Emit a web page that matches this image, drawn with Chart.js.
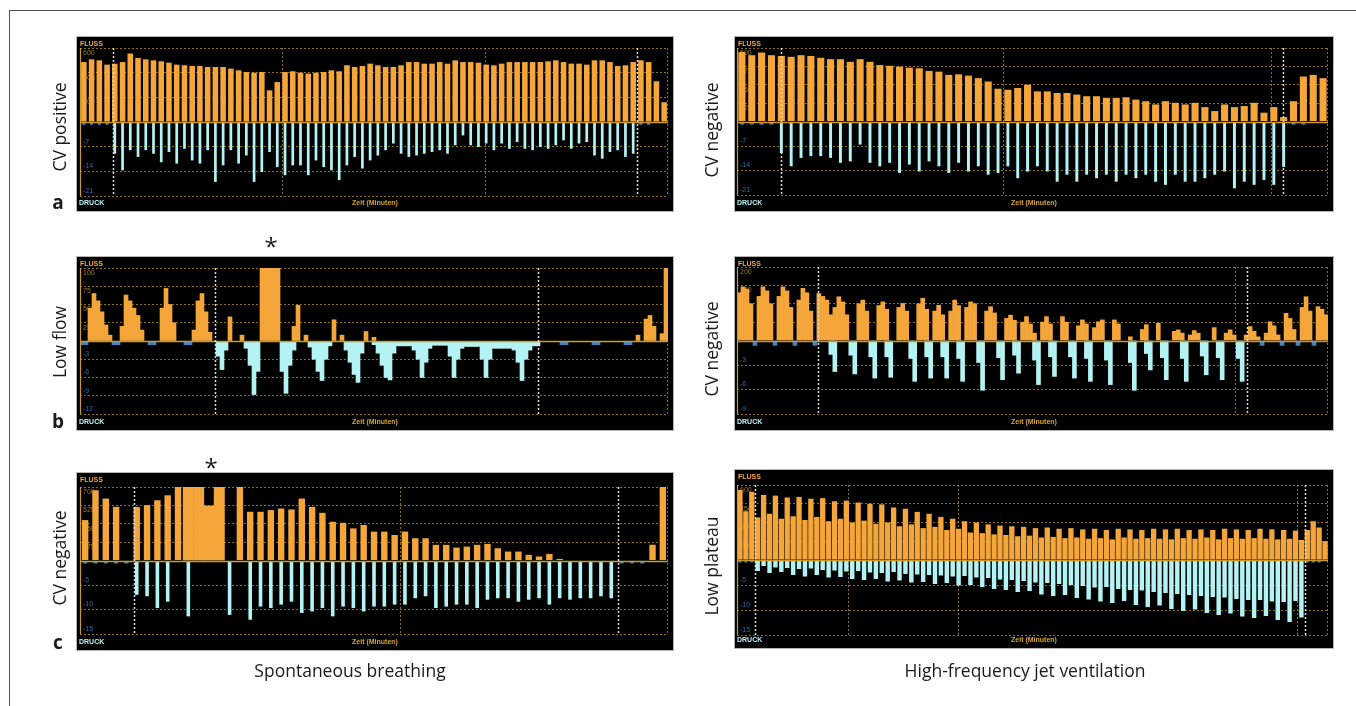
<!DOCTYPE html>
<html>
<head>
<meta charset="utf-8">
<script src="https://cdn.jsdelivr.net/npm/chart.js@4.4.1/dist/chart.umd.min.js"></script>
<style>
  body { margin: 0; width: 1356px; height: 706px; background: #fff; position: relative; overflow: hidden; font-family: 'Open Sans', sans-serif; }
  .frameTop { position: absolute; left: 9px; top: 10px; width: 1347px; height: 0; border-top: 1.5px solid #555; }
  .frameLeft { position: absolute; left: 9px; top: 10px; width: 0; height: 700px; border-left: 1.5px solid #555; }
  .panel { position: absolute; background: #000; box-shadow: 0 0 0 1px #b5b5b5; }
  .panel canvas { position: absolute; left: 0; top: 0; }
  .panel span { position: absolute; font: bold 7px 'Liberation Sans', sans-serif; line-height: 8px; white-space: nowrap; }
  .fluss { left: 3px; top: 3px; color: #f5a63a; }
  .druck { left: 2px; bottom: 4px; color: #b6f0f4; }
  .zeit { left: 50%; transform: translateX(-50%); bottom: 4px; color: #d8a52e; }
  .rowlab { position: absolute; font-size: 17.5px; color: #1a1a1a; line-height: 1; white-space: nowrap; transform: translate(-50%, -50%) rotate(-90deg); }
  .letter { position: absolute; font-size: 19px; font-weight: bold; color: #1a1a1a; line-height: 1; transform: translate(-50%, -50%); }
  .star { position: absolute; font-size: 24px; color: #1a1a1a; line-height: 1; transform: translate(-50%, -50%); }
  .bottom { position: absolute; font-size: 17.5px; color: #1a1a1a; line-height: 1; white-space: nowrap; transform: translate(-50%, -50%); }
</style>
</head>
<body>
<div class="frameTop"></div>
<div class="frameLeft"></div>
<script>
// ---- a: CV positive (spontaneous) -- one slot per breath
const aLeftFlowTicks = [200, 400, 600];
const aLeftPresTicks = [-7, -14, -21];
const aLeftFlow = [486, 508, 500, 465,
  473, 486, 555, 519, 508, 500, 492, 481, 465, 460, 454, 454, 446, 446, 446, 433, 419, 405, 400, 405, 257, 324, 405, 411, 400, 392, 400, 405, 419, 411, 460, 446, 454, 473,
  460, 446, 446, 460, 486, 486, 473, 473, 486, 473, 500, 486, 486, 481, 465, 460, 473, 486, 486, 486, 486, 486, 492, 500, 486, 473, 473, 465, 500, 500, 486, 454, 460, 486,
  500, 486, 330, 160];
const aLeftPres = [null, null, null, null,
  -9.0, -13.7, -8.0, -9.9, -8.0, -9.0, -11.4, -8.5, -11.8, -7.6, -10.9, -11.8, -8.0, -17.0, -12.3, -8.0, -11.8, -9.5, -17.0, -14.2, -8.5, -12.8, -15.1, -12.3, -12.3, -15.1, -10.9, -12.8, -13.7, -16.5, -12.3, -9.9, -13.2, -10.9,
  -9.5, -8.0, -6.1, -9.0, -9.9, -9.5, -9.0, -8.5, -8.0, -9.0, -6.6, -3.8, -6.6, -7.1, -6.1, -8.0, -6.1, -7.6, -5.7, -7.6, -8.0, -7.1, -7.6, -6.6, -5.2, -7.6, -6.1, -5.7, -9.5, -10.4, -8.5, -8.0, -9.9, -9.0,
  null, null, null, null];
const aLeftDips = [0, 1, 2, 3, 72, 73];
const aLeftDipDepth = -0.8;
const aLeftTime = [25.6, 51.8];
const aLeftMarks = [3.76, 71.5];

// ---- a: CV negative (HFJV)
const aRightFlowTicks = [125, 250, 375, 500];
const aRightPresTicks = [-7, -14, -21];
const aRightFlow = [473, 451, 469, 451,
  446, 440, 451, 446, 433, 424, 424, 406, 424, 406, 384, 379, 373, 366, 362, 344, 339, 317, 321, 312, 295, 272, 223, 216, 228, 250, 205,
  205, 194, 194, 183, 172, 172, 161, 161, 165, 149, 138, 116, 138, 127, 116, 127, 98, 71, 116, 98, 105, 127, 60, 98,
  30, 138, 306, 317, 295];
const aRightPres = [null, null, null, null,
  -9.0, -12.8, -10.4, -9.9, -9.9, -10.4, -11.8, -11.4, -6.6, -11.8, -12.8, -11.8, -14.7, -12.3, -14.3, -11.4, -12.8, -14.7, -11.8, -14.3, -12.8, -15.2, -14.7, -12.8, -16.2, -14.3, -12.8,
  -14.3, -17.2, -15.2, -17.2, -15.2, -16.2, -15.2, -17.2, -15.2, -16.2, -15.2, -17.2, -18.1, -15.2, -17.2, -17.2, -16.2, -15.2, -14.3, -19.1, -17.2, -18.1, -16.7, -18.1,
  -13.0, null, null, null, null];
const aRightDips = [0, 1, 2, 3, 56, 57];
const aRightDipDepth = -0.9;
const aRightTime = [26.5, 53.7];
const aRightMarks = [3.97, 54.9];

// ---- b: Low flow (spontaneous) -- finer sampling
const bLeftFlowTicks = [25, 50, 75, 100];
const bLeftPresTicks = [-3, -6, -9, -12];
const bLeftFlow = [
  null, null, 45, 65, 55, 40, 22, 8, null, null,
  20, 63, 55, 45, 35, 15, null, null, null, null,
  45, 72, 50, 25, null, null, null, null, 15, 55,
  65, 40, 12, null, null, null, null, 33, null, null,
  8, null, null, null, null, 100, 100, 100, 100, 100,
  null, null, null, 20, 49, null, 8, null, null, null,
  null, null, null, 29, null, 8, null, null, null, null,
  null, 13, null, 5, null, null, null, null, null, null,
  null, null, null, null, null, null, null, null, null, null,
  null, null, null, null, null, null, null, null, null, null,
  null, null, null, null, null, null, null, null, null, null,
  null, null, null, null, null, null, null, null, null, null,
  null, null, null, null, null, null, null, null, null, null,
  null, null, null, null, null, null, null, null, null, 8,
  null, 30, 35, 20, null, 10, 100];
const bLeftPres = [
  null, null, null, null, null, null, null, null, null, null,
  null, null, null, null, null, null, null, null, null, null,
  null, null, null, null, null, null, null, null, null, null,
  null, null, null, null, -2.5, -4.7, -1.5, null, null, null,
  null, -1.2, -4.0, -8.8, -5.0, null, null, null, null, null,
  -5.0, -8.6, -4.0, -1.5, null, null, null, -1.0, -3.0, -5.0,
  -6.5, -3.0, -0.8, null, null, null, -1.5, -3.5, -5.5, -6.8,
  -2.0, null, null, -0.6, -2.0, -4.0, -6.0, -6.4, -2.0, -0.8,
  -0.8, -0.8, -0.8, -1.5, -3.0, -6.0, -3.5, -1.2, -0.7, -0.7,
  -0.7, -0.7, -2.5, -6.0, -3.0, -1.2, -0.9, -0.9, -0.9, -0.9,
  -3.0, -6.0, -3.0, -1.2, -1.2, -1.2, -1.2, -1.2, -1.5, -3.5,
  -6.5, -3.0, -1.5, -0.8, -0.8, null, null, null, null, null,
  null, null, null, null, null, null, null, null, null, null,
  null, null, null, null, null, null, null, null, null, null,
  null, null, null, null, null, null, null];
const bLeftDips = [0, 1, 8, 9, 17, 18, 26, 27, 120, 121, 128, 129, 136, 137];
const bLeftDipDepth = -0.6;
const bLeftTime = [];
const bLeftMarks = [33.25, 113.9];

// ---- b: CV negative (HFJV)
const bRightFlowTicks = [50, 100, 150, 200];
const bRightPresTicks = [-3, -6, -9];
const bRightFlow = [
  130, 146, 140, 100, null, 120, 146, 135, 100, null,
  120, 146, 135, 90, null, 110, 142, 130, 80, null,
  128, 120, 110, 70, 90, 119, 105, 70, null, null,
  100, 110, 80, null, null, 95, 105, 85, null, null,
  90, 101, 80, null, null, 100, 115, 85, null, 80,
  96, 70, null, 80, 110, 95, null, 90, 105, 100,
  null, null, 80, 92, 75, null, null, 60, 69, 55,
  null, 50, 65, 45, 20, null, 50, 65, 45, null,
  null, 65, 50, null, null, 40, 56, 45, null, 35,
  51, 56, null, null, 56, 45, null, null, 10, null,
  null, 30, 43, null, null, 47, null, null, null, 25,
  29, 20, null, 15, 27, 20, null, null, null, 35,
  null, null, 20, 29, 15, null, null, 15, 38, 25,
  10, null, 20, 51, 40, 15, null, 74, 60, 30,
  null, 90, 119, 80, null, 92, 85, 70];
const bRightPres = [
  null, null, null, null, null, null, null, null, null, null,
  null, null, null, null, null, null, null, null, null, null,
  null, null, null, -1.7, -3.8, null, null, null, -1.8, -4.1,
  null, null, null, -2.0, -4.6, null, null, -2.0, -4.5, null,
  null, null, null, -2.2, -5.0, null, null, -2.0, -4.6, null,
  null, -2.0, -4.6, null, null, -2.2, -5.0, null, null, null,
  -2.7, -6.1, null, null, null, -2.1, -4.8, null, null, -1.8,
  -4.0, null, null, null, -2.4, -5.4, null, null, -2.0, -4.4,
  null, null, null, -2.0, -4.6, null, null, -2.2, -5.0, null,
  null, null, -2.4, -5.4, null, null, null, null, -2.7, -6.1,
  null, null, -1.6, -3.6, null, null, -2.1, -4.8, null, null,
  null, -2.2, -5.0, null, null, null, -1.9, -4.2, null, null,
  -2.1, -4.8, null, null, null, -2.2, -5.0, null, null, null,
  null, null, null, null, null, null, null, null, null, null,
  null, null, null, null, null, null, null, null];
const bRightDips = [4, 9, 14, 19, 131, 136, 140, 144];
const bRightDipDepth = -0.6;
const bRightTime = [124.1];
const bRightMarks = [19.9, 127.1];

// ---- c: CV negative (spontaneous)
const cLeftFlowTicks = [175, 350, 525, 700];
const cLeftPresTicks = [-5, -10, -15];
const cLeftFlow = [385, 669, 590, 511, null,
  511, 527, 574, 621, 700, 700, 700, 520, 700, null, 700,
  464, 464, 480, 495, 486, 590, 511, 454, 369, 359, 306, 338, 275, 275, 243, 275, 212, 212, 149, 149, 123, 132, 149, 158, 117, 85, 85, 54, 38, 63,
  15, null, null, null, null, null, null, null, null, 150, 700];
const cLeftPres = [null, null, null, null, null,
  -7.0, -7.3, -9.7, -8.4, null, -11.4, null, null, null, -11.1, null,
  -12.1, -9.4, -9.7, -9.0, -8.4, -10.7, -10.4, -9.7, -11.4, -9.4, -9.7, -10.4,
  -9.4, -9.4, -9.0, -9.0, -7.7, -7.3, -9.7, -9.4, -9.0, -9.0, -9.7, -8.0, -7.7, -7.7, -8.4, -8.0, -7.7, -9.0, -7.7, -8.0, -7.7, -7.7, -7.3, -7.7,
  null, null, null, null, null];
const cLeftSatSlots = [10, 11, 12, 13];
const cLeftDips = [0, 1, 2, 3, 4, 52, 53, 54];
const cLeftDipDepth = -0.6;
const cLeftTime = [30.5];
const cLeftMarks = [4.76, 51.7];

// ---- c: Low plateau (HFJV)
const cRightFlowTicks = [150, 300, 450, 600];
const cRightPresTicks = [-5, -10, -15];
const cRightFlow = [
  560, 390, 545, 340, 520, 370, 515, 330, 500, 350,
  505, 320, 490, 345, 495, 310, 470, 330, 475, 300,
  460, 315, 450, 290, 445, 300, 420, 270, 410, 285,
  385, 255, 370, 265, 345, 240, 330, 250, 310, 220,
  300, 215, 285, 205, 275, 200, 270, 190, 265, 195,
  255, 180, 260, 185, 250, 175, 255, 180, 245, 170,
  250, 175, 240, 165, 250, 180, 245, 170, 240, 175,
  250, 170, 245, 165, 250, 175, 240, 170, 245, 180,
  240, 165, 250, 175, 245, 170, 240, 175, 250, 170,
  245, 165, 240, 170, 235, 160, 240, 310, 260, 150];
const cRightPres = [
  null, null, null, -2.2, -1.2, -2.6, -1.5, -2.4, -1.6, -3.0,
  -1.8, -3.3, -1.7, -3.0, -2.0, -3.5, -2.1, -3.4, -2.3, -3.8,
  -2.2, -4.0, -2.5, -3.8, -2.6, -4.3, -2.4, -4.1, -2.8, -4.5,
  -2.9, -4.4, -3.0, -4.8, -3.1, -4.6, -3.3, -5.1, -3.2, -5.0,
  -3.5, -5.4, -3.6, -5.8, -3.9, -6.0, -4.0, -6.4, -4.2, -6.2,
  -4.5, -6.9, -4.6, -7.2, -4.8, -7.0, -5.0, -7.6, -5.2, -7.9,
  -5.5, -8.3, -5.4, -8.6, -5.8, -8.2, -6.0, -9.0, -6.1, -9.4,
  -6.4, -9.1, -6.6, -9.8, -6.8, -10.2, -7.0, -9.9, -7.2, -10.6,
  -7.4, -11.0, -7.5, -10.7, -7.8, -11.3, -8.0, -11.6, -8.0, -11.2,
  -8.3, -12.0, -8.4, -12.4, -8.2, -11.5, null, null, null, null];
const cRightDips = [0, 1, 2, 96, 97, 98];
const cRightDipDepth = -0.5;
const cRightTime = [18.3, 36.9, 94.3];
const cRightMarks = [2.55, 95.6];

// ---- colours
const ORANGE = '#f5a63a';
const CYAN = '#b4f3f3';
const DIPBLUE = '#3f82cc';
const GRID = 'rgba(176,140,30,0.8)';

// panel layout: box = [left, top, width, height], pad = chart area inset
const panels = [
  { box: [77, 37, 596, 174], pad: { left: 3, right: 5, top: 11, bottom: 15 },
    flow: aLeftFlow, pres: aLeftPres, fTicks: aLeftFlowTicks, pTicks: aLeftPresTicks,
    dips: aLeftDips, dipDepth: aLeftDipDepth, time: aLeftTime, marks: aLeftMarks, bars: [0.72, 0.35, 0.4] },
  { box: [735, 37, 598, 174], pad: { left: 2, right: 5, top: 11, bottom: 16 },
    flow: aRightFlow, pres: aRightPres, fTicks: aRightFlowTicks, pTicks: aRightPresTicks,
    dips: aRightDips, dipDepth: aRightDipDepth, time: aRightTime, marks: aRightMarks, bars: [0.72, 0.3, 0.4] },
  { box: [77, 257, 596, 173], pad: { left: 3, right: 5, top: 11, bottom: 16 },
    flow: bLeftFlow, pres: bLeftPres, fTicks: bLeftFlowTicks, pTicks: bLeftPresTicks,
    dips: bLeftDips, dipDepth: bLeftDipDepth, time: bLeftTime, marks: bLeftMarks, bars: [1, 1, 1] },
  { box: [735, 257, 598, 173], pad: { left: 2, right: 5, top: 10, bottom: 16 },
    flow: bRightFlow, pres: bRightPres, fTicks: bRightFlowTicks, pTicks: bRightPresTicks,
    dips: bRightDips, dipDepth: bRightDipDepth, time: bRightTime, marks: bRightMarks, bars: [1, 1, 1] },
  { box: [77, 473, 596, 177], pad: { left: 3, right: 5, top: 14, bottom: 16 },
    flow: cLeftFlow, pres: cLeftPres, fTicks: cLeftFlowTicks, pTicks: cLeftPresTicks, sat: cLeftSatSlots,
    dips: cLeftDips, dipDepth: cLeftDipDepth, time: cLeftTime, marks: cLeftMarks, bars: [0.62, 0.35, 0.4] },
  { box: [735, 470, 598, 178], pad: { left: 2, right: 5, top: 15, bottom: 13 },
    flow: cRightFlow, pres: cRightPres, fTicks: cRightFlowTicks, pTicks: cRightPresTicks,
    dips: cRightDips, dipDepth: cRightDipDepth, time: cRightTime, marks: cRightMarks, bars: [0.9, 0.75, 0.5] }
];

// vertical time lines, zero line, axis line and event markers
const decor = {
  id: 'decor',
  beforeDatasetsDraw(chart, args, opts) {
    const { ctx, chartArea: a, scales: { x } } = chart;
    ctx.save();
    ctx.strokeStyle = GRID;
    ctx.lineWidth = 1;
    ctx.setLineDash([2, 2]);
    const xs = opts.time.map(v => Math.round(x.getPixelForValue(v)) + 0.5);
    xs.push(Math.round(a.right) - 0.5);
    xs.forEach(px => {
      ctx.beginPath(); ctx.moveTo(px, a.top); ctx.lineTo(px, a.bottom); ctx.stroke();
    });
    ctx.restore();
  },
  afterDatasetsDraw(chart, args, opts) {
    const { ctx, chartArea: a, scales: { x, yF } } = chart;
    ctx.save();
    const y0 = Math.round(yF.getPixelForValue(0)) + 0.5;
    ctx.strokeStyle = '#c99a2a';
    ctx.lineWidth = 1.5;
    ctx.beginPath(); ctx.moveTo(a.left, y0); ctx.lineTo(a.right, y0); ctx.stroke();
    ctx.lineWidth = 1.2;
    ctx.beginPath(); ctx.moveTo(a.left + 0.5, a.top); ctx.lineTo(a.left + 0.5, a.bottom); ctx.stroke();
    ctx.strokeStyle = '#dcdcdc';
    ctx.lineWidth = 1.5;
    ctx.setLineDash([2, 2]);
    opts.marks.forEach(v => {
      const px = Math.round(x.getPixelForValue(v)) + 0.5;
      ctx.beginPath(); ctx.moveTo(px, a.top); ctx.lineTo(px, a.bottom); ctx.stroke();
    });
    ctx.restore();
  }
};

function yAxis(ticks, upper) {
  const max = Math.abs(ticks[ticks.length - 1]);
  return {
    type: 'linear', position: 'left', min: -max, max: max,
    afterFit: s => { s.width = 0; },
    ticks: {
      stepSize: Math.abs(ticks[0]), mirror: true, padding: 3, labelOffset: upper ? 5 : -5,
      color: upper ? '#9c7a22' : '#3668aa', font: { size: 7, family: 'Liberation Sans' },
      callback: v => (upper ? v > 0 : v < 0) ? v : ''
    },
    grid: {
      drawTicks: false, lineWidth: 1,
      color: c => (c.tick && (upper ? c.tick.value > 0 : c.tick.value < 0)) ? GRID : 'rgba(0,0,0,0)'
    },
    border: { display: false, dash: [2, 2] }
  };
}

panels.forEach(p => {
  const [bx, by, bw, bh] = p.box;
  const div = document.createElement('div');
  div.className = 'panel';
  Object.assign(div.style, { left: bx + 'px', top: by + 'px', width: bw + 'px', height: bh + 'px' });
  const cv = document.createElement('canvas');
  cv.width = bw; cv.height = bh;
  div.appendChild(cv);
  div.insertAdjacentHTML('beforeend',
    '<span class="fluss">FLUSS</span><span class="druck">DRUCK</span><span class="zeit">Zeit (Minuten)</span>');
  document.body.appendChild(div);

  const sat = p.sat || [];
  const labels = p.flow.map((_, i) => i);
  const common = { type: 'bar', categoryPercentage: 1, grouped: false, borderWidth: 0 };
  const datasets = [
    { ...common, data: p.flow.map((v, i) => sat.includes(i) ? null : v), yAxisID: 'yF', backgroundColor: ORANGE, barPercentage: p.bars[0] },
    { ...common, data: p.flow.map((v, i) => sat.includes(i) ? v : null), yAxisID: 'yF', backgroundColor: ORANGE, barPercentage: 1 },
    { ...common, data: p.pres, yAxisID: 'yP', backgroundColor: CYAN, barPercentage: p.bars[1] },
    { ...common, data: labels.map(i => p.dips.includes(i) ? p.dipDepth : null), yAxisID: 'yP', backgroundColor: DIPBLUE, barPercentage: p.bars[2] }
  ];

  new Chart(cv.getContext('2d'), {
    type: 'bar',
    data: { labels, datasets },
    options: {
      responsive: false, animation: false, devicePixelRatio: 1, events: [],
      layout: { padding: p.pad },
      plugins: { legend: { display: false }, tooltip: { enabled: false }, decor: { time: p.time, marks: p.marks } },
      scales: {
        x: { type: 'category', display: false, offset: true },
        yF: yAxis(p.fTicks, true),
        yP: yAxis(p.pTicks, false)
      }
    },
    plugins: [decor]
  });
});

// figure texts
const texts = [
  ['rowlab', 'CV positive', 60, 127], ['rowlab', 'Low flow', 60, 342], ['rowlab', 'CV negative', 60, 558],
  ['rowlab', 'CV negative', 712, 130], ['rowlab', 'CV negative', 712, 349], ['rowlab', 'Low plateau', 712, 566],
  ['letter', 'a', 58, 202], ['letter', 'b', 58, 421], ['letter', 'c', 58, 642],
  ['star', '*', 271, 246], ['star', '*', 211, 467],
  ['bottom', 'Spontaneous breathing', 350, 671], ['bottom', 'High-frequency jet ventilation', 1025, 671]
];
texts.forEach(([cls, txt, x, y]) => {
  const d = document.createElement('div');
  d.className = cls;
  d.textContent = txt;
  d.style.left = x + 'px';
  d.style.top = y + 'px';
  document.body.appendChild(d);
});
</script>
</body>
</html>
